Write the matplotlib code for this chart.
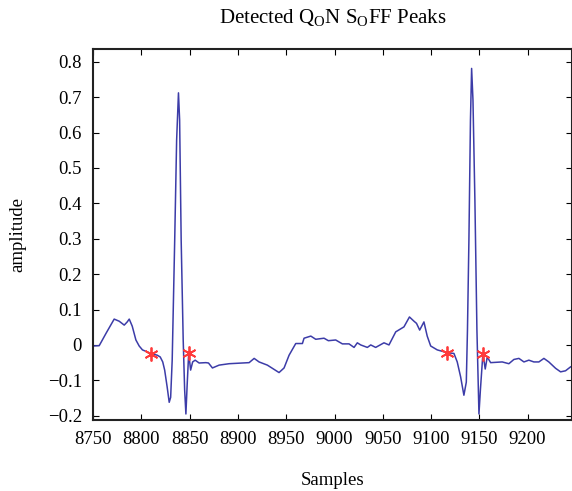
import matplotlib
matplotlib.use("Agg")
import matplotlib.pyplot as plt
from matplotlib.ticker import FuncFormatter

plt.rcParams["font.family"] = ["Liberation Serif", "DejaVu Serif"]
plt.rcParams["mathtext.fontset"] = "custom"
plt.rcParams["mathtext.rm"] = "Liberation Serif"

# ECG trace (sample index, amplitude)
samples = [8750, 8756.2, 8763.5, 8771.7, 8776.9, 8782.1, 8785.2, 8787.3, 8790.4, 8794.2,
           8797.6, 8801, 8809.7, 8816.3, 8819.4, 8822, 8824, 8826.6, 8828.7, 8830.2,
           8831.8, 8834.4, 8836.4, 8838.3, 8839.5, 8841.1, 8843.2, 8844.7, 8846, 8847.3,
           8848.9, 8850.9, 8853, 8855.6, 8859.7, 8866.7, 8869.4, 8873.5, 8880.4, 8890.8,
           8911.5, 8916.7, 8921.8, 8930.4, 8942.5, 8947.7, 8952.9, 8959.8, 8966.7, 8968.4,
           8975.4, 8980.5, 8989.1, 8993.6, 9001.2, 9008.1, 9015, 9020.2, 9023.6, 9027.1,
           9034, 9037.5, 9042.6, 9051.2, 9056.4, 9063.4, 9071.9, 9077.6, 9082.3, 9084.9,
           9088.2, 9092.6, 9096, 9099.6, 9106.4, 9116.8, 9123.7, 9127.1, 9130.6, 9134,
           9136.5, 9137.7, 9139.2, 9140.8, 9142, 9143.4, 9145.4, 9147.5, 9149.6, 9151.1,
           9153.7, 9156.1, 9158.2, 9161.7, 9173.7, 9180.6, 9185.8, 9191, 9196.2, 9201.3,
           9206.5, 9211.7, 9216.9, 9222, 9229, 9234.2, 9239.3, 9244.5]
amplitude = [-0.003, -0.002, 0.034, 0.073, 0.067, 0.056, 0.065, 0.073, 0.053, 0.014,
             -0.003, -0.014, -0.024, -0.029, -0.034, -0.048, -0.071, -0.119, -0.162, -0.148,
             -0.043, 0.296, 0.579, 0.712, 0.635, 0.296, 0.014, -0.127, -0.195, -0.113,
             -0.023, -0.071, -0.048, -0.043, -0.051, -0.050, -0.051, -0.065, -0.057, -0.053,
             -0.050, -0.038, -0.048, -0.057, -0.078, -0.065, -0.029, 0.004, 0.004, 0.019,
             0.025, 0.016, 0.019, 0.012, 0.014, 0.003, 0.003, -0.007, 0.006, 0.000,
             -0.007, 0.000, -0.007, 0.006, 0.000, 0.037, 0.051, 0.079, 0.067, 0.061,
             0.042, 0.065, 0.025, -0.003, -0.014, -0.022, -0.024, -0.048, -0.090, -0.142,
             -0.105, 0.042, 0.296, 0.635, 0.781, 0.692, 0.409, 0.042, -0.195, -0.127,
             -0.024, -0.068, -0.034, -0.050, -0.048, -0.053, -0.041, -0.038, -0.048, -0.043,
             -0.048, -0.048, -0.038, -0.048, -0.066, -0.076, -0.073, -0.062]

# detected Q-on / S-off points
peak_x = [8810, 8849, 9117, 9154]
peak_y = [-0.026, -0.022, -0.022, -0.026]

xticks = [8750, 8800, 8850, 8900, 8950, 9000, 9050, 9100, 9150, 9200]
yticks = [-0.2, -0.1, 0, 0.1, 0.2, 0.3, 0.4, 0.5, 0.6, 0.7, 0.8]

fig = plt.figure(figsize=(5.72, 4.91), dpi=100)
ax = fig.add_axes([0.163, 0.1446, 0.837, 0.755])

ax.plot(samples, amplitude, color="#3c3ca8", lw=1.1)
# matlab style asterisk
ax.plot(peak_x, peak_y, ls="none", marker=(6, 2, 0), color="#ff3a3a", ms=10, mew=1.3)

ax.set_xlim(8750, 9246)
ax.set_ylim(-0.212, 0.835)
ax.set_xticks(xticks)
ax.set_yticks(yticks)
ax.yaxis.set_major_formatter(FuncFormatter(lambda v, p: f"{round(v, 1):g}".replace("-", "\u2212")))

ax.tick_params(direction="in", length=4, width=0.8, top=True, right=True,
               labelsize=13.5, colors="black", pad=8)
for s in ax.spines.values():
    s.set_linewidth(1.5)
    s.set_color("#222222")

ax.set_title(r"Detected Q$_\mathrm{O}$N S$_\mathrm{O}$FF Peaks", fontsize=15, pad=19)
ax.set_xlabel("Samples", fontsize=13.5, labelpad=17)
ax.set_ylabel("amplitude", fontsize=13.5)
ax.yaxis.set_label_coords(-0.14, 0.5)

fig.savefig("out.png", dpi=100)
